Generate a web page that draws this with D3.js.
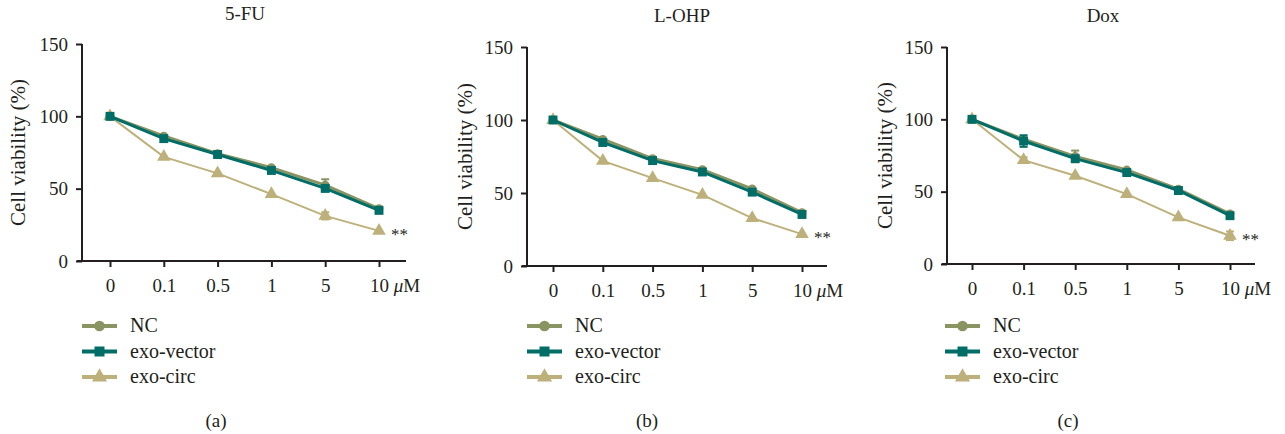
<!DOCTYPE html>
<html>
<head>
<meta charset="utf-8">
<script src="https://cdn.jsdelivr.net/npm/d3@7"></script>
<style>
  body { margin: 0; background: #fff; }
  svg text { font-family: "Liberation Serif", "DejaVu Serif", serif; fill: #231f20; }
</style>
</head>
<body>
<svg id="chart" width="1285" height="434"></svg>
<script>
// doses (uM)
var doses = ["0", "0.1", "0.5", "1", "5", "10"];
var yTicks = [0, 50, 100, 150];
var seriesNames = ["NC", "exo-vector", "exo-circ"];
var panelTitles = ["5-FU", "L-OHP", "Dox"];
var captions = ["(a)", "(b)", "(c)"];

// cell viability (%)
var fuNC     = [100, 86.4, 74.2, 64.5, 52.5, 36.2];
var fuVector = [100, 84.6, 73.6, 62.6, 50.2, 35.0];
var fuCirc   = [100, 72.0, 60.6, 46.2, 31.2, 20.8];
var fuErr    = [[0, 1, 1, 1, 4, 1], [0, 1, 1, 1, 2, 1], [0, 1, 1, 1, 2.5, 1]];

var ohpNC     = [100, 86.8, 73.6, 66.0, 52.8, 36.5];
var ohpVector = [100, 84.6, 72.2, 64.4, 50.6, 35.3];
var ohpCirc   = [100, 72.0, 60.2, 48.7, 32.8, 21.8];
var ohpErr    = [[0, 1, 1, 1, 1, 1], [0, 1, 1, 1, 1, 1], [0, 1, 1, 1, 1, 1]];

var doxNC     = [100, 86.2, 74.4, 65.0, 51.8, 34.6];
var doxVector = [100, 85.0, 72.8, 63.2, 50.8, 33.4];
var doxCirc   = [100, 71.8, 61.0, 48.3, 32.2, 19.5];
var doxErr    = [[0, 1, 4, 1, 1, 1], [0, 4, 1.5, 1.5, 1, 1], [0, 2, 1, 1, 1, 3]];

var panelData = [
    [fuNC, fuVector, fuCirc],
    [ohpNC, ohpVector, ohpCirc],
    [doxNC, doxVector, doxCirc]
];
var panelErr = [fuErr, ohpErr, doxErr];

var colors = ["#8a9462", "#006d67", "#bdb07a"];
var lineW  = [3, 3, 2];
var shapes = [d3.symbolCircle, d3.symbolSquare, d3.symbolTriangle];
var shapeSize = [60, 80, 80];

// layout of the three panels (pixel boxes)
var layout = [
    { axisX: 82,  x0: 110, x1: 379,  yBot: 261, yTop: 44, axisEnd: 406,  titleX: 245,  titleY: 20, ylabX: 25,  legX: 82,  capX: 216 },
    { axisX: 527, x0: 553, x1: 802,  yBot: 266, yTop: 47, axisEnd: 827,  titleX: 682,  titleY: 22, ylabX: 472, legX: 527, capX: 647 },
    { axisX: 947, x0: 972, x1: 1230, yBot: 264, yTop: 47, axisEnd: 1255, titleX: 1103, titleY: 22, ylabX: 892, legX: 945, capX: 1068 }
];

var svg = d3.select("#chart");

layout.forEach(function(L, p){

    var g = svg.append("g");

    var x = d3.scalePoint().domain(doses).range([L.x0, L.x1]);
    var y = d3.scaleLinear().domain([0, 150]).range([L.yBot, L.yTop]);

    // y axis
    var yAxis = d3.axisLeft(y).tickValues(yTicks).tickSize(6).tickPadding(8);
    var ya = g.append("g").attr("transform", "translate(" + L.axisX + ",0)").call(yAxis);
    ya.select(".domain").attr("d", "M0," + L.yTop + "V" + L.yBot);

    // x axis
    var xAxis = d3.axisBottom(x).tickSize(6).tickPadding(12);
    var xa = g.append("g").attr("transform", "translate(0," + L.yBot + ")").call(xAxis);
    xa.select(".domain").attr("d", "M" + (L.axisX - 5) + ",0H" + L.axisEnd);

    g.selectAll(".domain, .tick line").attr("stroke", "#231f20").attr("stroke-width", 2);
    g.selectAll(".tick text").style("font-size", "19px").attr("fill", "#231f20")
        .style("font-family", "'Liberation Serif', serif");

    // uM unit after the last tick label
    var lastTick = xa.selectAll(".tick").filter(function(d){ return d === "10"; }).select("text");
    lastTick.attr("text-anchor", "start").attr("dx", "-0.5em")
        .text("10 ")
        .append("tspan").style("font-style", "italic").text("\u03bc")
        .select(function(){ return this.parentNode; })
        .append("tspan").text("M");

    // title
    g.append("text").attr("x", L.titleX).attr("y", L.titleY)
        .attr("text-anchor", "middle").style("font-size", "19px").text(panelTitles[p]);

    // y label
    g.append("text")
        .attr("transform", "translate(" + L.ylabX + "," + ((L.yBot + L.yTop) / 2) + ") rotate(-90)")
        .attr("text-anchor", "middle").style("font-size", "21px").text("Cell viability (%)");

    // series, drawn circ first so the others lie on top
    [2, 0, 1].forEach(function(s){
        var vals = panelData[p][s];
        var errs = panelErr[p][s];
        var line = d3.line().x(function(d, i){ return x(doses[i]); }).y(function(d){ return y(d); });

        g.append("path").datum(vals)
            .attr("d", line).attr("fill", "none")
            .attr("stroke", colors[s]).attr("stroke-width", lineW[s]);

        // error bars
        vals.forEach(function(v, i){
            if (errs[i] < 1.5) return;
            var cx = x(doses[i]);
            var eb = g.append("g").attr("stroke", colors[s]).attr("stroke-width", 2);
            eb.append("line").attr("x1", cx).attr("x2", cx).attr("y1", y(v + errs[i])).attr("y2", y(v - errs[i]));
            eb.append("line").attr("x1", cx - 4).attr("x2", cx + 4).attr("y1", y(v + errs[i])).attr("y2", y(v + errs[i]));
            eb.append("line").attr("x1", cx - 4).attr("x2", cx + 4).attr("y1", y(v - errs[i])).attr("y2", y(v - errs[i]));
        });

        g.selectAll(null).data(vals).enter().append("path")
            .attr("d", d3.symbol().type(shapes[s]).size(shapeSize[s]))
            .attr("transform", function(d, i){ return "translate(" + x(doses[i]) + "," + y(d) + ")"; })
            .attr("fill", colors[s]);
    });

    // significance marker
    var lastCirc = panelData[p][2][doses.length - 1];
    g.append("text").attr("x", x("10") + 12).attr("y", y(lastCirc) + 9)
        .style("font-size", "17px").text("**");

    // legend
    seriesNames.forEach(function(name, s){
        var ly = 326 + s * 25.5;
        var lg = g.append("g");
        lg.append("line").attr("x1", L.legX).attr("x2", L.legX + 35).attr("y1", ly).attr("y2", ly)
            .attr("stroke", colors[s]).attr("stroke-width", 4);
        lg.append("path").attr("d", d3.symbol().type(shapes[s]).size(s === 0 ? 90 : 100))
            .attr("transform", "translate(" + (L.legX + 17.5) + "," + ly + ")")
            .attr("fill", colors[s]);
        lg.append("text").attr("x", L.legX + 48).attr("y", ly + 6)
            .style("font-size", "20px").text(name);
    });

    // caption
    g.append("text").attr("x", L.capX).attr("y", 427)
        .attr("text-anchor", "middle").style("font-size", "19px").text(captions[p]);
});
</script>
</body>
</html>
